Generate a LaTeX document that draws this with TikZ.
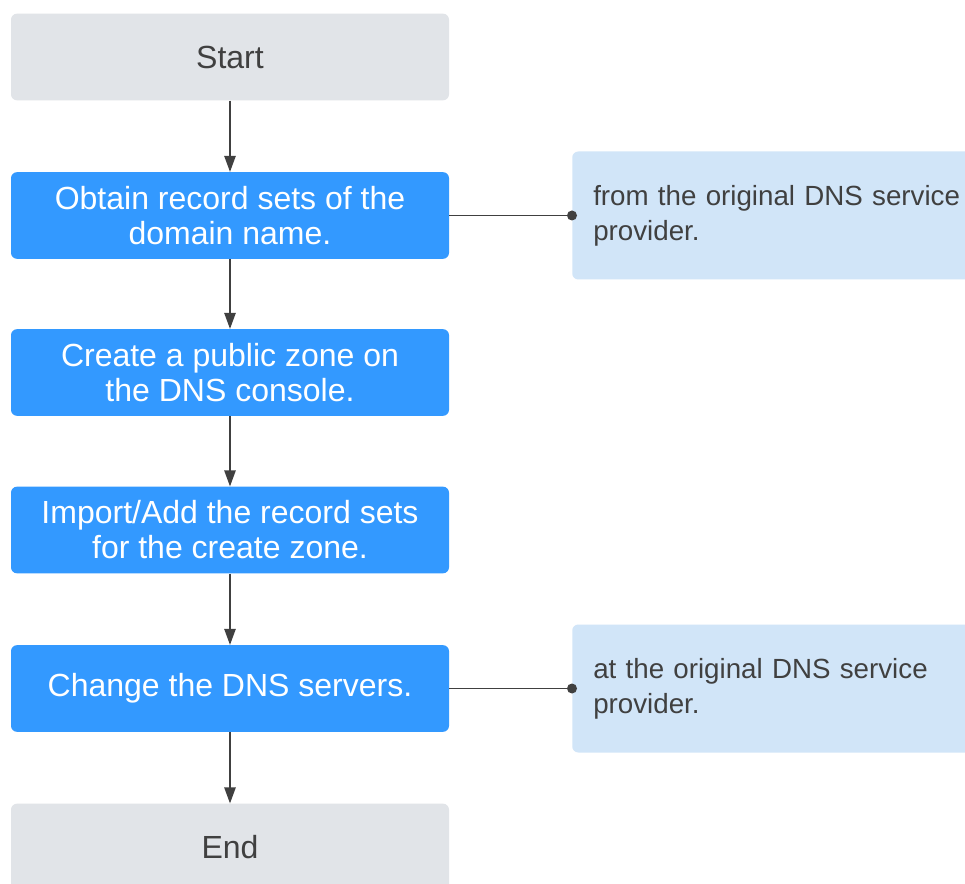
\documentclass[tikz,border=0pt]{standalone}
\usepackage{fontspec}
\setmainfont{Liberation Sans}
\usetikzlibrary{arrows.meta}
\definecolor{stepblue}{HTML}{3399FF}
\definecolor{endgray}{HTML}{E1E4E8}
\definecolor{noteblue}{HTML}{D1E5F8}
\definecolor{ink}{HTML}{404040}
\begin{document}
\begin{tikzpicture}[x=0.75pt,y=-0.75pt,
  base/.style={rounded corners=4.5pt, minimum width=328.5pt, minimum height=65pt, align=center, inner sep=0pt,
    font=\fontsize{24pt}{26.25pt}\selectfont},
  term/.style={base, fill=endgray, text=ink},
  stepbox/.style={base, fill=stepblue, text=white},
  note/.style={rounded corners=4.5pt, fill=noteblue, text=ink, anchor=west, minimum height=96pt,
    text width=285pt, align=left, inner xsep=15.75pt, inner ysep=0pt,
    font=\fontsize{20.8pt}{26.25pt}\selectfont},
  arr/.style={draw=ink, line width=1.2pt, -{Triangle[length=12pt,width=8.5pt]}},
  link/.style={draw=ink, line width=1.2pt}]
\clip (0,0) rectangle (965,884);
\fill[white] (0,0) rectangle (965,884);
\node[term] (start) at (230,57) {Start};
\node[stepbox] (obtain) at (230,215.5) {Obtain record sets of the\\domain name.};
\node[stepbox] (create) at (230,372.5) {Create a public zone on\\the DNS console.};
\node[stepbox] (import) at (230,530) {Import/Add the record sets\\for the create zone.};
\node[stepbox] (change) at (230,688.5) {Change the DNS servers.};
\node[term] (end) at (230,847) {End};
\node[note] (n1) at (572,215.5) {from the original DNS service\\provider.};
\node[note] (n2) at (572,688.5) {at the original DNS service\\provider.};
\draw[arr] (start) -- (obtain);
\draw[arr] (obtain) -- (create);
\draw[arr] (create) -- (import);
\draw[arr] (import) -- (change);
\draw[arr] (change) -- (end);
\draw[link] (obtain.east) -- (n1.west);
\draw[link] (change.east) -- (n2.west);
\fill[ink] (n1.west) circle (3.75pt);
\fill[ink] (n2.west) circle (3.75pt);
\end{tikzpicture}
\end{document}
